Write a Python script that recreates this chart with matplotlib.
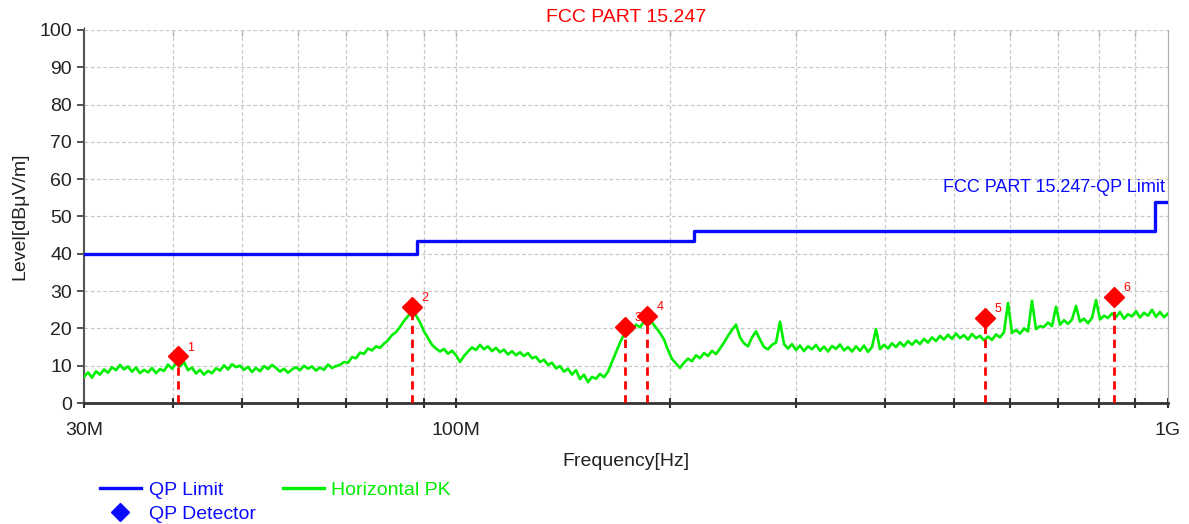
import numpy as np
import matplotlib
matplotlib.use("Agg")
import matplotlib.pyplot as plt
from matplotlib.lines import Line2D
from matplotlib.ticker import FixedLocator, NullFormatter

plt.rcParams['font.family'] = ['Liberation Sans Narrow', 'Liberation Sans', 'DejaVu Sans']

# QP limit steps (MHz, dBuV/m)
limit_freq = [30, 88, 88, 216, 216, 960, 960, 1000]
limit_level = [40, 40, 43.5, 43.5, 46, 46, 54, 54]

# QP detector points
qp_freq = [40.6, 86.7, 172.6, 185.4, 553.0, 840.0]
qp_level = [12.5, 25.7, 20.4, 23.3, 22.8, 28.4]
qp_names = ['1', '2', '3', '4', '5', '6']

# Horizontal PK trace, read from the sweep (30 MHz .. 1 GHz, log-spaced points)
pk_level = [
    7.0, 8.2, 6.8, 8.5, 7.6, 9.0, 8.1, 9.6, 8.8, 10.2, 9.0, 9.8, 8.4, 9.5, 8.0, 8.9,
    8.2, 9.4, 8.0, 9.1, 8.6, 10.3, 9.2, 10.6, 9.8, 11.0, 8.8, 9.5, 7.9, 8.9, 7.6, 8.6,
    8.0, 9.3, 8.7, 10.1, 9.0, 10.4, 9.6, 10.0, 8.9, 9.7, 8.3, 9.4, 8.5, 9.9, 9.1, 10.2,
    9.4, 8.4, 9.2, 8.1, 9.0, 9.6, 8.8, 10.0, 9.2, 9.8, 8.7, 9.5, 8.9, 10.3, 9.4, 9.9,
    10.2, 11.0, 10.8, 12.3, 12.0, 13.5, 13.2, 14.6, 14.1, 15.2, 14.8, 15.9, 16.8, 18.2, 19.0, 20.4,
    22.0, 23.3, 24.6, 23.5, 21.6, 19.2, 17.4, 15.6, 14.6, 13.8, 14.5, 13.2, 14.0, 12.8, 11.0, 12.6,
    13.8, 14.9, 14.2, 15.6, 14.4, 15.2, 13.9, 14.8, 13.6, 14.3, 13.0, 13.9, 12.8, 13.6, 12.6, 13.4,
    12.0, 12.4, 11.0, 11.6, 10.2, 10.8, 9.3, 9.9, 8.4, 9.2, 7.6, 8.8, 6.4, 7.6, 5.6, 7.0,
    6.5, 7.8, 6.9, 8.4, 11.0, 13.6, 16.2, 18.4, 20.0, 19.4, 21.0, 20.3, 21.8, 21.2, 21.6, 20.2,
    18.8, 17.0, 14.2, 11.8, 10.6, 9.4, 10.8, 11.9, 11.2, 12.8, 12.0, 13.4, 12.6, 14.0, 13.1, 14.6,
    16.2, 18.0, 19.6, 21.0, 17.6, 16.0, 15.2, 17.6, 19.2, 17.0, 15.0, 14.4, 15.6, 16.2, 21.8, 15.8,
    14.6, 15.8, 14.2, 15.4, 13.9, 15.2, 14.4, 15.6, 14.0, 15.1, 13.8, 15.3, 14.5, 15.7, 14.1, 15.0,
    13.8, 15.2, 14.0, 15.4, 13.7, 15.0, 19.8, 14.4, 15.6, 14.6, 16.0, 15.0, 16.3, 15.2, 16.6, 15.6,
    16.8, 15.8, 17.2, 16.2, 17.6, 16.6, 18.0, 17.0, 18.3, 17.2, 18.6, 17.4, 18.2, 17.0, 18.5, 17.4,
    18.0, 16.8, 17.8, 16.9, 18.4, 17.6, 19.0, 26.8, 18.8, 19.6, 18.6, 20.0, 19.2, 27.4, 19.8, 20.6,
    20.4, 21.6, 20.6, 25.8, 21.0, 22.2, 21.2, 22.4, 26.0, 21.8, 22.6, 21.4, 22.8, 27.6, 22.4, 23.4,
    22.8, 24.0, 23.0, 24.4, 22.6, 23.8, 23.2, 24.6, 22.9, 24.2, 23.4, 25.0, 23.1, 24.4, 23.0, 24.0,
]
pk_freq = np.geomspace(30, 1000, len(pk_level))

blue = '#0a0aff'
green = '#00ee00'
red = '#ff0000'
grid_c = '#c8c8c8'

fig = plt.figure(figsize=(11.89, 5.24), dpi=100)
ax = fig.add_axes([84 / 1189, 1 - 403 / 524, 1084 / 1189, 373 / 524])

ax.plot(pk_freq, pk_level, color=green, lw=1.9, zorder=3)
ax.plot(limit_freq, limit_level, color=blue, lw=2.4, zorder=4)

for f, v, n in zip(qp_freq, qp_level, qp_names):
    ax.plot([f, f], [0, v], color=red, lw=2, ls=(0, (3, 2)), zorder=5)
    ax.plot(f, v, marker='D', ms=10, color=red, mec=red, zorder=6)
    ax.annotate(n, (f, v), xytext=(7, 2), textcoords='offset points',
                color=red, fontsize=9, va='bottom', ha='left', zorder=7)

ax.text(990, 55.5, 'FCC PART 15.247-QP Limit', color=blue, fontsize=13,
        ha='right', va='bottom')

ax.set_xscale('log')
ax.set_xlim(30, 1000)
ax.set_ylim(0, 100)
ax.set_yticks(range(0, 101, 10))
ax.xaxis.set_major_locator(FixedLocator([30, 100, 1000]))
ax.set_xticklabels(['30M', '100M', '1G'])
minor_f = [40, 50, 60, 70, 80, 90, 200, 300, 400, 500, 600, 700, 800, 900]
ax.xaxis.set_minor_locator(FixedLocator(minor_f))
ax.xaxis.set_minor_formatter(NullFormatter())

ax.grid(True, which='both', color=grid_c, ls=(0, (3, 2)), lw=0.9)
ax.tick_params(axis='both', which='both', labelsize=14, colors='#333333',
               labelcolor='#222222')
ax.tick_params(axis='x', which='both', direction='inout', length=7, width=1.5)
ax.tick_params(axis='x', which='major', pad=10)
ax.tick_params(axis='y', direction='out', length=5, width=1.2)

# faint ticks along the top edge
top = ax.secondary_xaxis('top')
top.xaxis.set_major_locator(FixedLocator([100] + minor_f))
top.xaxis.set_major_formatter(NullFormatter())
top.tick_params(direction='in', length=4, width=1, colors='#999999')
top.spines['top'].set_visible(False)

ax.spines['top'].set_visible(False)
ax.spines['right'].set_color('#aaaaaa')
ax.spines['left'].set_color('#555555')
ax.spines['left'].set_linewidth(1.5)
ax.spines['bottom'].set_color('#333333')
ax.spines['bottom'].set_linewidth(2)

ax.set_title('FCC PART 15.247', color=red, fontsize=14, pad=6)
ax.set_ylabel('Level[dBμV/m]', fontsize=14, color='#222222', labelpad=8)
ax.set_xlabel('Frequency[Hz]', fontsize=14, color='#222222', labelpad=10)

handles = [Line2D([], [], color=blue, lw=2.4),
           Line2D([], [], color=blue, marker='D', ls='none', ms=9),
           Line2D([], [], color=green, lw=2.4)]
fig.legend(handles, ['QP Limit', 'QP Detector', 'Horizontal PK'],
           loc='upper left', bbox_to_anchor=(100 / 1189, 1 - 481 / 524),
           ncol=2, frameon=False, fontsize=14, handlelength=2.1,
           handletextpad=0.4, columnspacing=1.4, labelspacing=0.35,
           borderpad=0, borderaxespad=0,
           labelcolor=[blue, blue, green])

fig.savefig('out.png', dpi=100, facecolor='white')
